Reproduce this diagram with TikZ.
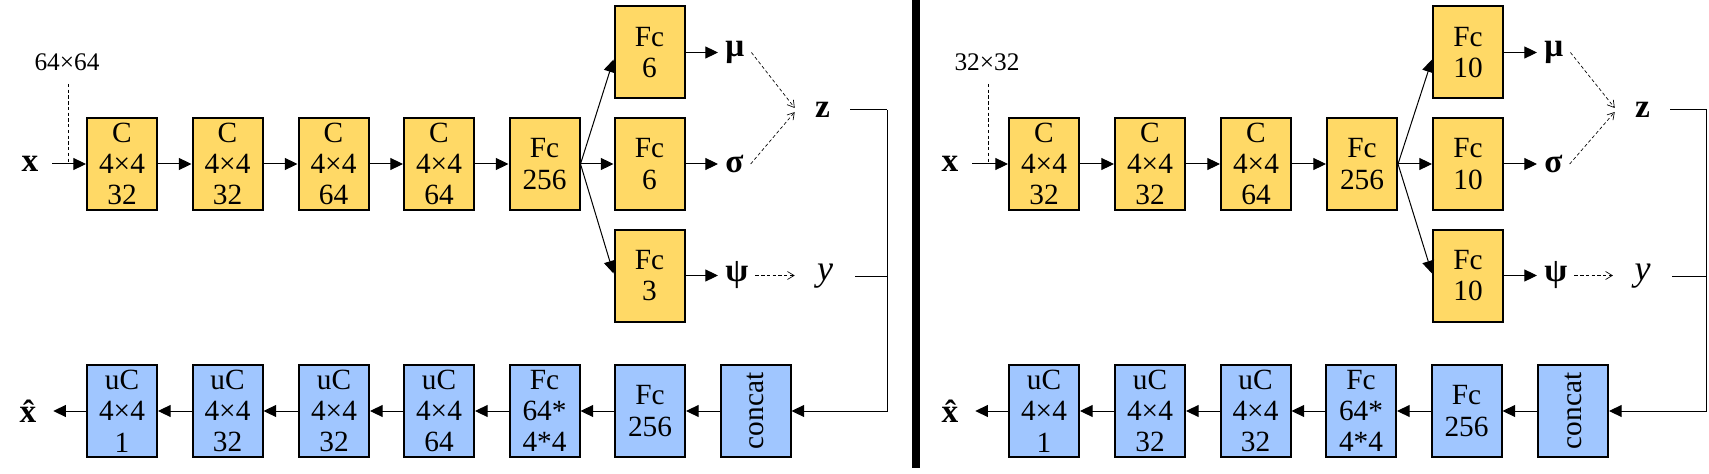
\documentclass[tikz,border=0pt]{standalone}
\usepackage{fontspec}
\setmainfont{Liberation Serif}
\usetikzlibrary{arrows.meta,calc}
\definecolor{boxyellow}{HTML}{FFD966}
\definecolor{boxblue}{HTML}{A0C6FF}
\tikzset{
  enc/.style={draw=black, line width=1.5pt, fill=boxyellow, minimum width=52.5pt, minimum height=69pt, inner sep=0pt, align=center, font=\fontsize{22}{23.5}\selectfont},
  dec/.style={enc, fill=boxblue},
  conn/.style={line width=0.75pt, -{Triangle[length=9.5pt,width=9pt]}},
  plain/.style={line width=0.75pt},
  dconn/.style={line width=0.5pt, dash pattern=on 2.5pt off 1.8pt, -{Straight Barb[length=5pt,width=6pt]}},
  dsh/.style={line width=0.6pt, dash pattern=on 2.5pt off 1.8pt},
  sym/.style={inner xsep=5.25pt, inner ysep=0pt, font=\fontsize{25}{25}\selectfont\bfseries},
  ylab/.style={inner sep=0pt, font=\fontsize{27}{27}\selectfont\itshape},
  szlab/.style={inner sep=0pt, font=\fontsize{19}{19}\selectfont}
}
\begin{document}
\begin{tikzpicture}[x=0.75pt,y=-0.75pt]
\useasboundingbox (0,0) rectangle (1709,474);
% ---------------- left panel ----------------
\node[enc] (L1) at (122,164) {C\\4×4\\32};
\node[enc] (L2) at (227.5,164) {C\\4×4\\32};
\node[enc] (L3) at (333.5,164) {C\\4×4\\64};
\node[enc] (L4) at (439,164) {C\\4×4\\64};
\node[enc] (L5) at (544.5,164) {Fc\\256};
\node[enc] (Lmu) at (649.5,52.5) {Fc\\6};
\node[enc] (Lsg) at (649.5,164) {Fc\\6};
\node[enc] (Lps) at (649.5,275.5) {Fc\\3};
\node[sym,anchor=west] (Lm) at (718,52.5) {μ};
\node[sym,anchor=west] (Ls) at (718,164) {σ};
\node[sym,anchor=west] (Lp) at (718,275.5) {ψ};
\node[sym,inner sep=0pt,minimum width=41.25pt] (Lz) at (822.5,110) {z};
\node[ylab,minimum width=45pt] (Ly) at (825,276) {y};
\node[sym,inner sep=0pt,minimum width=33pt] (Lx) at (30,164) {x};
\node[szlab] (Lsz) at (67,62) {64×64};
\coordinate (Ld) at (68,84);
\draw[dsh] (Ld) -- (Ld |- L1.west);
\draw[conn] (Lx.east) -- (L1.west);
\draw[conn] (L1.east) -- (L2.west);
\draw[conn] (L2.east) -- (L3.west);
\draw[conn] (L3.east) -- (L4.west);
\draw[conn] (L4.east) -- (L5.west);
\draw[conn] (L5.east) -- ($(Lmu.west)+(0,7)$);
\draw[conn] (L5.east) -- (Lsg.west);
\draw[conn] (L5.east) -- ($(Lps.west)+(0,-2)$);
\draw[conn] (Lmu.east) -- (Lm.west);
\draw[conn] (Lsg.east) -- (Ls.west);
\draw[conn] (Lps.east) -- (Lp.west);
\draw[dconn] (Lm.east) -- ($(Lz.west)+(0,-2)$);
\draw[dconn] (Ls.east) -- ($(Lz.west)+(0,2)$);
\draw[dconn] (Lp.east) -- (Lp.east -| Ly.west);
% bottom
\node[dec] (LB1) at (122,411) {uC\\4×4\\1};
\node[dec] (LB2) at (227.5,411) {uC\\4×4\\32};
\node[dec] (LB3) at (334,411) {uC\\4×4\\32};
\node[dec] (LB4) at (439,411) {uC\\4×4\\64};
\node[dec] (LB5) at (544.5,411) {Fc\\64*\\4*4};
\node[dec] (LB6) at (650,411) {Fc\\256};
\node[dec] (LB7) at (755.5,411) {\rotatebox{90}{concat}};
\node[sym,inner sep=0pt,minimum width=37.5pt] (Lxh) at (28,411) {\^x};
\draw[conn] (LB7.west) -- (LB6.east);
\draw[conn] (LB6.west) -- (LB5.east);
\draw[conn] (LB5.west) -- (LB4.east);
\draw[conn] (LB4.west) -- (LB3.east);
\draw[conn] (LB3.west) -- (LB2.east);
\draw[conn] (LB2.west) -- (LB1.east);
\draw[conn] (LB1.west) -- (Lxh.east);
\coordinate (Lbus) at (887,0);
\draw[plain] (Lz.east) -- (Lz.east -| Lbus);
\draw[plain] (Ly.east) -- (Ly.east -| Lbus);
\draw[conn] (Lz.east -| Lbus) -- (Lbus |- LB7.east) -- (LB7.east);
% separator
\fill (912,0) rectangle (919.5,468);
% ---------------- right panel ----------------
\node[enc] (R1) at (1044,164) {C\\4×4\\32};
\node[enc] (R2) at (1150,164) {C\\4×4\\32};
\node[enc] (R3) at (1256,164) {C\\4×4\\64};
\node[enc] (R5) at (1362,164) {Fc\\256};
\node[enc] (Rmu) at (1468,52.5) {Fc\\10};
\node[enc] (Rsg) at (1468,164) {Fc\\10};
\node[enc] (Rps) at (1468,275.5) {Fc\\10};
\node[sym,anchor=west] (Rm) at (1537,52.5) {μ};
\node[sym,anchor=west] (Rs) at (1537,164) {σ};
\node[sym,anchor=west] (Rp) at (1537,275.5) {ψ};
\node[sym,inner sep=0pt,minimum width=41.25pt] (Rz) at (1642.5,110) {z};
\node[ylab,minimum width=44pt] (Ry) at (1642.5,276) {y};
\node[sym,inner sep=0pt,minimum width=33pt] (Rx) at (950,164) {x};
\node[szlab] (Rsz) at (987,62) {32×32};
\coordinate (Rd) at (988,84);
\draw[dsh] (Rd) -- (Rd |- R1.west);
\draw[conn] (Rx.east) -- (R1.west);
\draw[conn] (R1.east) -- (R2.west);
\draw[conn] (R2.east) -- (R3.west);
\draw[conn] (R3.east) -- (R5.west);
\draw[conn] (R5.east) -- ($(Rmu.west)+(0,7)$);
\draw[conn] (R5.east) -- (Rsg.west);
\draw[conn] (R5.east) -- ($(Rps.west)+(0,-2)$);
\draw[conn] (Rmu.east) -- (Rm.west);
\draw[conn] (Rsg.east) -- (Rs.west);
\draw[conn] (Rps.east) -- (Rp.west);
\draw[dconn] (Rm.east) -- ($(Rz.west)+(0,-2)$);
\draw[dconn] (Rs.east) -- ($(Rz.west)+(0,2)$);
\draw[dconn] (Rp.east) -- (Rp.east -| Ry.west);
% bottom
\node[dec] (RB1) at (1044,411) {uC\\4×4\\1};
\node[dec] (RB2) at (1150,411) {uC\\4×4\\32};
\node[dec] (RB3) at (1255.5,411) {uC\\4×4\\32};
\node[dec] (RB5) at (1361,411) {Fc\\64*\\4*4};
\node[dec] (RB6) at (1466.5,411) {Fc\\256};
\node[dec] (RB7) at (1573,411) {\rotatebox{90}{concat}};
\node[sym,inner sep=0pt,minimum width=37.5pt] (Rxh) at (950,411) {\^x};
\draw[conn] (RB7.west) -- (RB6.east);
\draw[conn] (RB6.west) -- (RB5.east);
\draw[conn] (RB5.west) -- (RB3.east);
\draw[conn] (RB3.west) -- (RB2.east);
\draw[conn] (RB2.west) -- (RB1.east);
\draw[conn] (RB1.west) -- (Rxh.east);
\coordinate (Rbus) at (1706.5,0);
\draw[plain] (Rz.east) -- (Rz.east -| Rbus);
\draw[plain] (Ry.east) -- (Ry.east -| Rbus);
\draw[conn] (Rz.east -| Rbus) -- (Rbus |- RB7.east) -- (RB7.east);
\end{tikzpicture}
\end{document}
